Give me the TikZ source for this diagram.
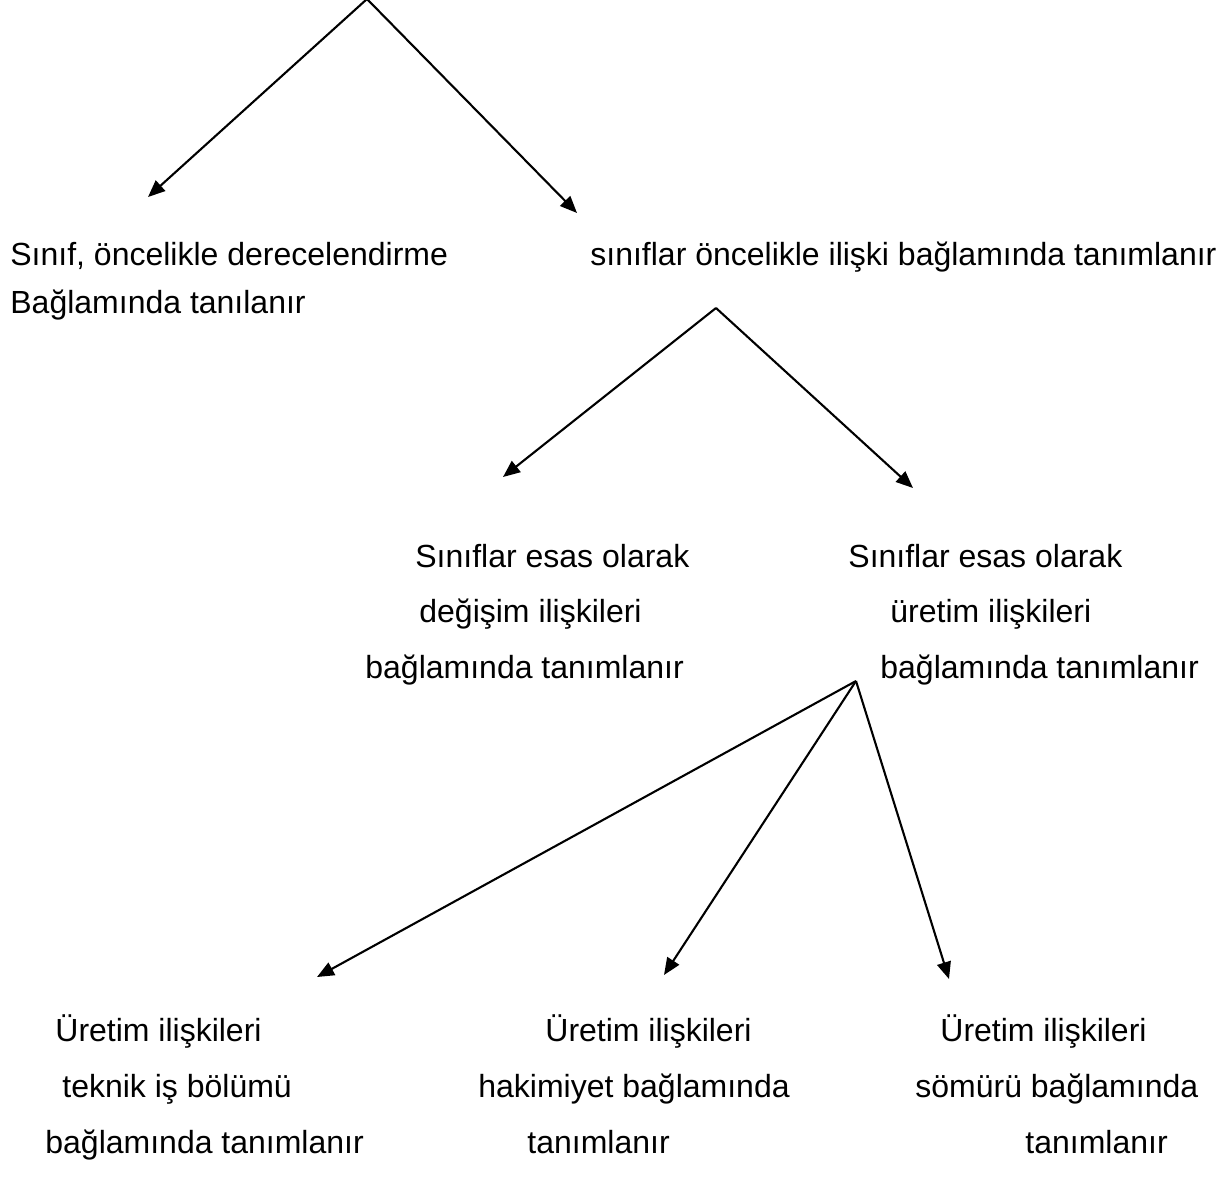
\documentclass[tikz,border=0pt]{standalone}
\usepackage{fontspec}
\setmainfont{Liberation Sans}
\usetikzlibrary{arrows.meta}
\begin{document}
\begin{tikzpicture}[x=0.5pt,y=-0.5pt,
  lbl/.style={anchor=base west,inner sep=0pt,font=\fontsize{16pt}{19pt}\selectfont},
  arr/.style={line width=1.05pt,-{Triangle[length=8.5pt,width=7pt]}}]
\useasboundingbox (0,0) rectangle (1228,1191);

% level 1
\coordinate (top) at (367,-1);
\coordinate (e1) at (148,197);
\coordinate (e2) at (577,213);
\draw[arr] (top) -- (e1);
\draw[arr] (top) -- (e2);

\node[lbl] (a1) at (10,265) {Sınıf, öncelikle derecelendirme};
\node[lbl] (a2) at (10,313) {Bağlamında tanılanır};
\node[lbl] (b1) at (590,265) {sınıflar öncelikle ilişki bağlamında tanımlanır};

% level 2
\coordinate (apex2) at (716,308);
\coordinate (e3) at (503,477);
\coordinate (e4) at (913,488);
\draw[arr] (apex2) -- (e3);
\draw[arr] (apex2) -- (e4);

\node[lbl] (c1) at (415,567) {Sınıflar esas olarak};
\node[lbl] (c2) at (419,622) {değişim ilişkileri};
\node[lbl] (c3) at (365,678) {bağlamında tanımlanır};

\node[lbl] (d1) at (848,567) {Sınıflar esas olarak};
\node[lbl] (d2) at (890,622) {üretim ilişkileri};
\node[lbl] (d3) at (880,678) {bağlamında tanımlanır};

% level 3
\coordinate (apex3) at (856,681);
\coordinate (e5) at (317,977);
\coordinate (e6) at (664,975);
\coordinate (e7) at (949,979);
\draw[arr] (apex3) -- (e5);
\draw[arr] (apex3) -- (e6);
\draw[arr] (apex3) -- (e7);

\node[lbl] (f1) at (55,1041) {Üretim ilişkileri};
\node[lbl] (f2) at (62,1097) {teknik iş bölümü};
\node[lbl] (f3) at (45,1153) {bağlamında tanımlanır};

\node[lbl] (g1) at (545,1041) {Üretim ilişkileri};
\node[lbl] (g2) at (478,1097) {hakimiyet bağlamında};
\node[lbl] (g3) at (527,1153) {tanımlanır};

\node[lbl] (h1) at (940,1041) {Üretim ilişkileri};
\node[lbl] (h2) at (915,1097) {sömürü bağlamında};
\node[lbl] (h3) at (1025,1153) {tanımlanır};
\end{tikzpicture}
\end{document}
